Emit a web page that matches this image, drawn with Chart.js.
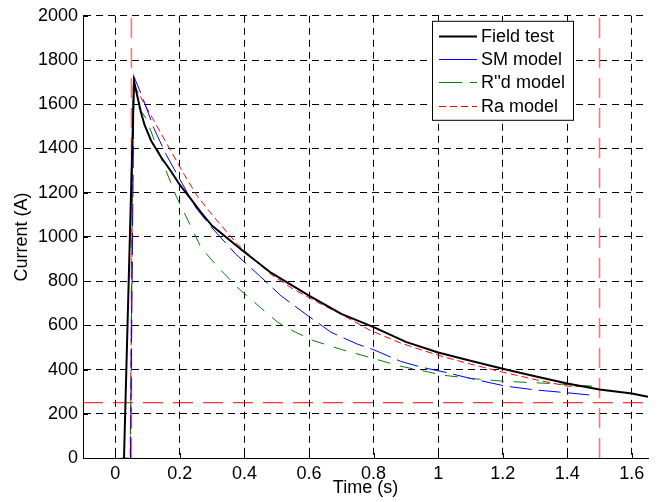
<!DOCTYPE html>
<html>
<head>
<meta charset="utf-8">
<script src="https://cdn.jsdelivr.net/npm/chart.js@4/dist/chart.umd.min.js"></script>
<style>
  html, body { margin: 0; padding: 0; background: #fff; }
  #wrap { width: 659px; height: 502px; }
</style>
</head>
<body>
<div id="wrap"><canvas id="c" width="659" height="502"></canvas></div>
<script>
// ---- Data ----
const fieldT = [0.027, 0.058, 0.07, 0.08, 0.091, 0.111, 0.142, 0.173, 0.2, 0.235, 0.266, 0.3, 0.389, 0.482, 0.6, 0.7, 0.8, 0.9, 1.0, 1.1, 1.2, 1.3, 1.4, 1.5, 1.6, 1.65];
const fieldI = [0, 1705, 1625, 1560, 1505, 1435, 1360, 1296, 1235, 1170, 1110, 1050, 944, 838, 734, 652, 592, 525, 477, 440, 404, 370, 337, 310, 292, 277];

const smT = [0.047, 0.058, 0.086, 0.12, 0.158, 0.2, 0.25, 0.3, 0.374, 0.45, 0.513, 0.6, 0.668, 0.75, 0.8, 0.884, 0.95, 1.018, 1.1, 1.209, 1.3, 1.4, 1.477];
const smI = [0, 1725, 1625, 1490, 1371, 1260, 1131, 1040, 921, 820, 734, 640, 569, 515, 490, 437, 410, 389, 360, 325, 308, 295, 284];

const rdT = [0.047, 0.055, 0.07, 0.096, 0.142, 0.189, 0.23, 0.266, 0.32, 0.384, 0.45, 0.503, 0.55, 0.611, 0.7, 0.8, 0.884, 1.018, 1.1, 1.203, 1.348, 1.477];
const rdI = [0, 1620, 1590, 1535, 1355, 1183, 1060, 951, 860, 764, 680, 614, 575, 532, 491, 450, 415, 374, 360, 347, 337, 325];

const raT = [0.02, 0.046, 0.056, 0.07, 0.116, 0.168, 0.214, 0.255, 0.3, 0.379, 0.482, 0.55, 0.627, 0.7, 0.79, 0.884, 0.95, 1.018, 1.1, 1.198, 1.3, 1.4, 1.471];
const raI = [0, 0, 1690, 1655, 1535, 1400, 1281, 1183, 1100, 966, 831, 765, 704, 650, 577, 520, 488, 457, 425, 389, 355, 325, 322];

const refTimes = [0.05, 1.5];   // vertical reference lines (s)
const refCurrent = 250;         // horizontal reference line (A)

const xTicks = [0, 0.2, 0.4, 0.6, 0.8, 1, 1.2, 1.4, 1.6];
const yTicks = [0, 200, 400, 600, 800, 1000, 1200, 1400, 1600, 1800, 2000];
const xRange = [-0.1, 1.65];
const yRange = [0, 2000];

const seriesNames = ['Field test', 'SM model', "R''d model", 'Ra model'];

// ---- build ----
const zip = (t, v) => t.map((x, i) => ({x: x, y: v[i]}));
const FONT = '"Liberation Sans", Arial, Helvetica, sans-serif';

const datasets = [
  {label: seriesNames[0], data: zip(fieldT, fieldI), borderColor: '#000000', borderWidth: 2, borderDash: []},
  {label: seriesNames[1], data: zip(smT, smI), borderColor: '#0000ff', borderWidth: 1, borderDash: [22, 7]},
  {label: seriesNames[2], data: zip(rdT, rdI), borderColor: '#008000', borderWidth: 1, borderDash: [13, 10]},
  {label: seriesNames[3], data: zip(raT, raI), borderColor: '#ff0000', borderWidth: 1, borderDash: [7, 4]},
  {label: '_ref1', data: [{x: refTimes[0], y: yRange[0]}, {x: refTimes[0], y: yRange[1]}], borderColor: 'rgba(255,0,0,0.55)', borderWidth: 1.5, borderDash: [20, 10]},
  {label: '_ref2', data: [{x: refTimes[1], y: yRange[0]}, {x: refTimes[1], y: yRange[1]}], borderColor: 'rgba(255,0,0,0.55)', borderWidth: 1.5, borderDash: [20, 10]},
  {label: '_ref3', data: [{x: xRange[0], y: refCurrent}, {x: xRange[1], y: refCurrent}], borderColor: '#ff0000', borderWidth: 1, borderDash: [20, 10]}
].map(d => Object.assign({showLine: true, pointRadius: 0, tension: 0, fill: false}, d));

const legendSamples = [
  {color: '#000000', width: 2, dash: []},
  {color: '#0000ff', width: 1, dash: []},
  {color: '#008000', width: 1, dash: [23, 8]},
  {color: '#ff0000', width: 1, dash: [7, 4]}
];

const innerTicks = {
  id: 'innerTicks',
  afterDatasetsDraw(chart) {
    const ctx = chart.ctx, a = chart.chartArea;
    const xs = chart.scales.x, ys = chart.scales.y;
    ctx.save();
    ctx.strokeStyle = '#000';
    ctx.lineWidth = 1;
    ctx.setLineDash([]);
    ctx.beginPath();
    xTicks.forEach(v => {
      const px = Math.round(xs.getPixelForValue(v)) + 0.5;
      ctx.moveTo(px, a.bottom); ctx.lineTo(px, a.bottom - 5);
    });
    yTicks.forEach(v => {
      const py = Math.round(ys.getPixelForValue(v)) + 0.5;
      ctx.moveTo(a.left, py); ctx.lineTo(a.left + 5, py);
    });
    ctx.stroke();
    ctx.restore();
  }
};

const boxLegend = {
  id: 'boxLegend',
  afterDraw(chart) {
    const ctx = chart.ctx, a = chart.chartArea;
    const left = a.right - 216, top = a.top + 5, w = 141, h = 99;
    ctx.save();
    ctx.fillStyle = '#fff';
    ctx.fillRect(left, top, w, h);
    ctx.strokeStyle = '#000';
    ctx.lineWidth = 1;
    ctx.setLineDash([]);
    ctx.strokeRect(left + 0.5, top + 0.5, w, h);
    ctx.font = '18px ' + FONT;
    ctx.textBaseline = 'middle';
    for (let i = 0; i < 4; i++) {
      const s = legendSamples[i];
      const y = top + 15 + i * 23.3;
      ctx.strokeStyle = s.color;
      ctx.lineWidth = s.width;
      ctx.setLineDash(s.dash);
      ctx.beginPath();
      ctx.moveTo(left + 7, Math.round(y) + 0.5);
      ctx.lineTo(left + 45, Math.round(y) + 0.5);
      ctx.stroke();
      ctx.setLineDash([]);
      ctx.fillStyle = '#000';
      ctx.fillText(seriesNames[i], left + 49, y + 1);
    }
    ctx.restore();
  }
};

new Chart(document.getElementById('c'), {
  type: 'scatter',
  data: {datasets: datasets},
  plugins: [innerTicks, boxLegend],
  options: {
    responsive: false,
    animation: false,
    events: [],
    layout: {padding: {left: 0, right: 11, top: 13, bottom: 0}},
    plugins: {legend: {display: false}, tooltip: {enabled: false}},
    scales: {
      x: {
        type: 'linear', min: xRange[0], max: xRange[1],
        afterBuildTicks: s => { s.ticks = xTicks.map(v => ({value: v})); },
        afterFit: s => { s.height = 44; },
        ticks: {color: '#000', font: {family: FONT, size: 18}, padding: 5,
                callback: v => String(Math.round(v * 10) / 10)},
        grid: {display: true, color: '#000', lineWidth: 1, drawTicks: false},
        border: {display: true, color: '#000', width: 1, dash: [7, 5]},
        title: {display: true, text: 'Time (s)', color: '#000', font: {family: FONT, size: 18}, padding: {top: 0, bottom: 3}}
      },
      y: {
        type: 'linear', min: yRange[0], max: yRange[1],
        afterBuildTicks: s => { s.ticks = yTicks.map(v => ({value: v})); },
        afterFit: s => { s.width = 83; },
        ticks: {color: '#000', font: {family: FONT, size: 18}, padding: 5,
                callback: v => String(v)},
        grid: {display: true, color: '#000', lineWidth: 1, drawTicks: false},
        border: {display: true, color: '#000', width: 1, dash: [7, 5]},
        title: {display: true, text: 'Current (A)', color: '#000', font: {family: FONT, size: 18}, padding: {top: 11, bottom: 0}}
      }
    }
  }
});
</script>
</body>
</html>
